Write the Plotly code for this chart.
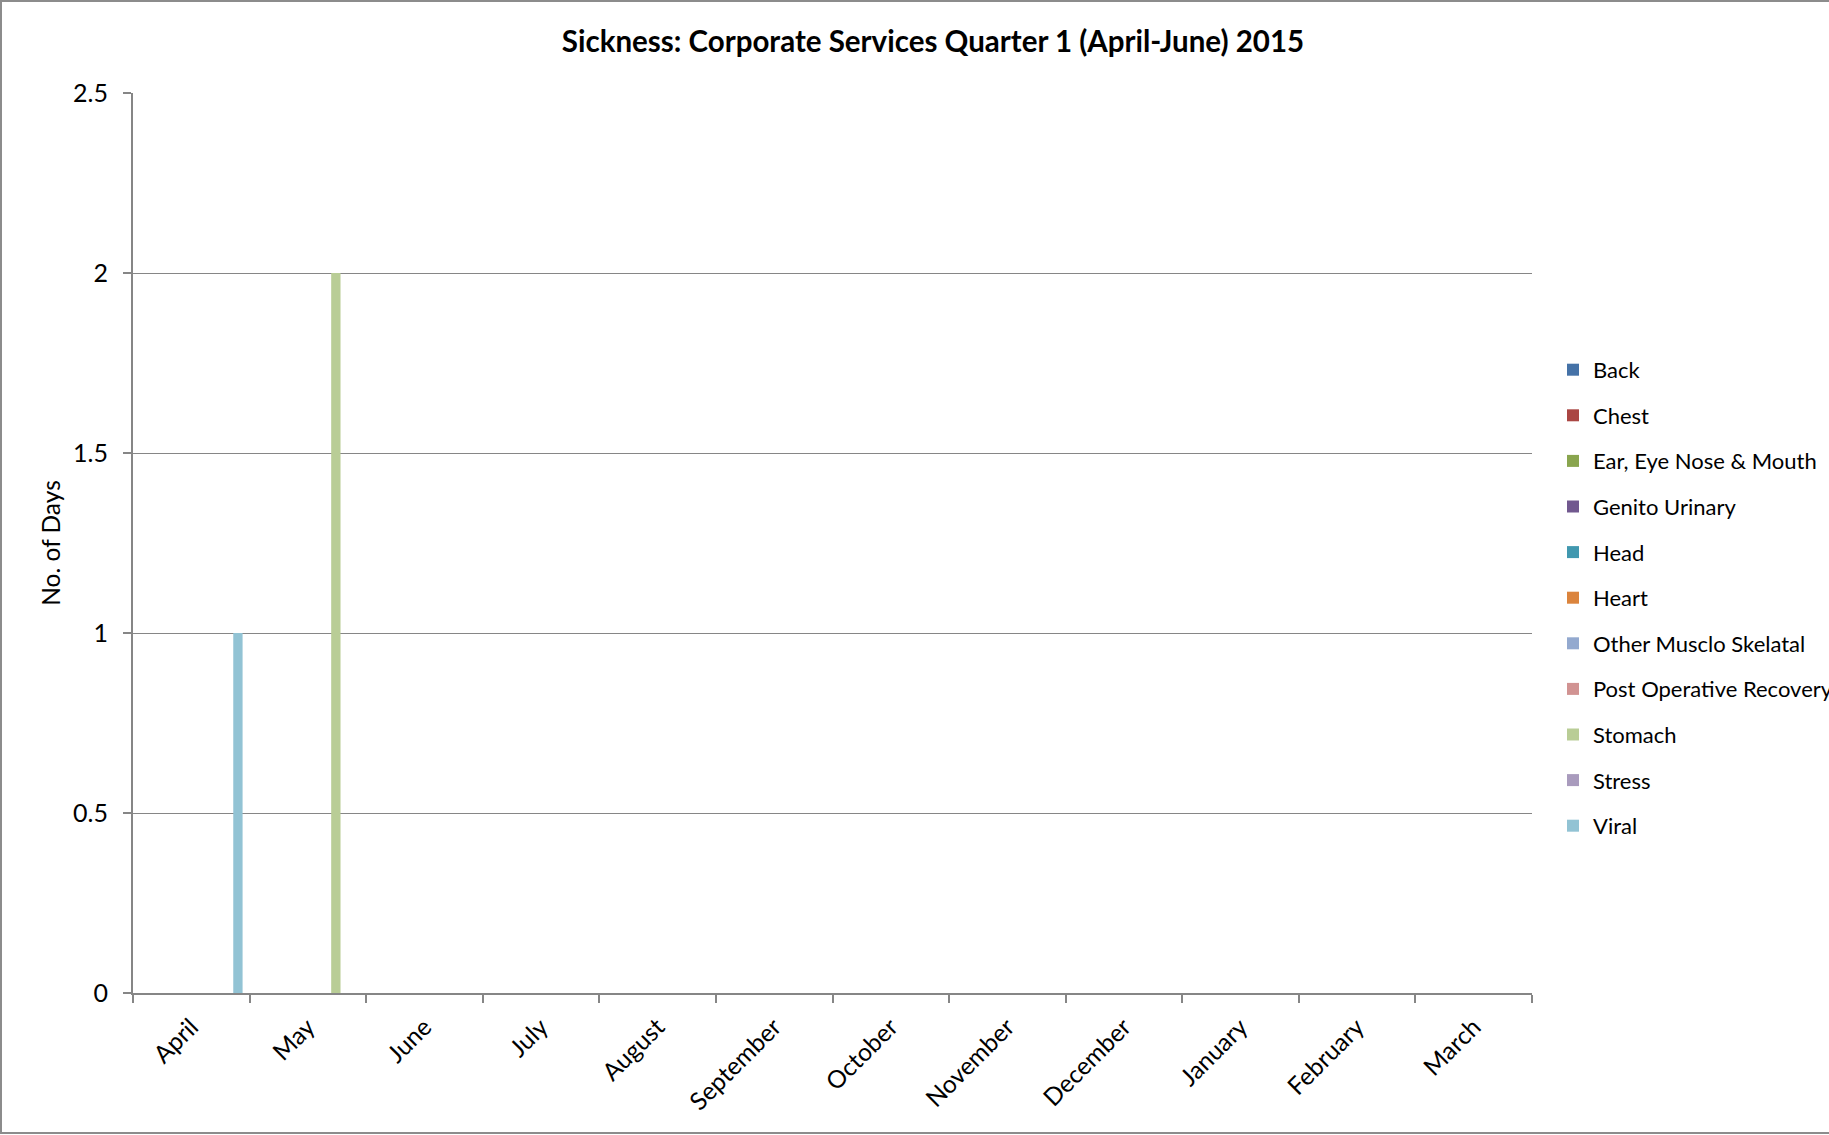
import plotly.graph_objects as go

months = ["April", "May", "June", "July", "August", "September", "October",
          "November", "December", "January", "February", "March"]

series_names = ["Back", "Chest", "Ear, Eye Nose & Mouth", "Genito Urinary", "Head",
                "Heart", "Other Musclo Skelatal", "Post Operative Recovery",
                "Stomach", "Stress", "Viral"]

series_colors = ["#4572A7", "#AA4643", "#89A54E", "#71588F", "#4198AF", "#DB843D",
                 "#93A9CF", "#D19392", "#B9CD96", "#A99BBD", "#92C3D4"]

back = [0] * 12
chest = [0] * 12
ear_eye = [0] * 12
genito = [0] * 12
head = [0] * 12
heart = [0] * 12
other_musclo = [0] * 12
post_op = [0] * 12
stomach = [0, 2, 0, 0, 0, 0, 0, 0, 0, 0, 0, 0]
stress = [0] * 12
viral = [1, 0, 0, 0, 0, 0, 0, 0, 0, 0, 0, 0]

series_values = [back, chest, ear_eye, genito, head, heart, other_musclo,
                 post_op, stomach, stress, viral]

W, H = 1829, 1135
ML, MR, MT, MB = 133, 297, 93, 142
FONT = "Lato"
GRAY = "#868686"

fig = go.Figure()
for i, (name, vals, col) in enumerate(zip(series_names, series_values, series_colors)):
    fig.add_trace(go.Bar(
        x=months, y=vals, name=name,
        marker=dict(color=col, line=dict(width=0)),
        legendgroup=f"g{i}",
    ))

pw = W - ML - MR
ph = H - MT - MB

fig.update_layout(
    width=W, height=H,
    margin=dict(l=ML, r=MR, t=MT, b=MB, autoexpand=False),
    paper_bgcolor="white", plot_bgcolor="white",
    barmode="group", bargap=0.12, bargroupgap=0,
    font=dict(family=FONT, size=24, color="black"),
    title=dict(text="<b>Sickness: Corporate Services Quarter 1 (April-June) 2015</b>",
               x=933 / W, xref="container", xanchor="center",
               y=1 - 42 / H, yref="container", yanchor="middle",
               font=dict(family=FONT, size=29.5, color="black")),
    legend=dict(x=1.015, xanchor="left", y=0.439, yanchor="middle",
                font=dict(family=FONT, size=22), tracegroupgap=14,
                bgcolor="rgba(0,0,0,0)", itemclick=False),
    showlegend=True,
    xaxis=dict(type="category", showline=True, linecolor=GRAY, linewidth=2,
               ticks="outside", tickson="boundaries", ticklen=8, tickcolor=GRAY,
               tickwidth=1.5, tickangle=-45, showgrid=False,
               ticklabelstandoff=8,
               tickfont=dict(family=FONT, size=24.5)),
    yaxis=dict(range=[0, 2.5], dtick=0.5, showline=True, linecolor=GRAY, linewidth=2,
               ticks="outside", ticklen=8, tickcolor=GRAY, tickwidth=1.5,
               showgrid=True, gridcolor=GRAY, gridwidth=1, zeroline=False,
               ticklabelstandoff=10, tickfont=dict(family=FONT, size=25),
               title=dict(text="No. of Days", standoff=6,
                          font=dict(family=FONT, size=24.5))),
)

# outer chart frame
fig.add_shape(type="rect", xref="paper", yref="paper",
              x0=(1 - ML) / pw, x1=(W + 20 - ML) / pw,
              y0=(H - MB - (H - 2)) / ph, y1=(H - MB - 1) / ph,
              line=dict(color="#8c8c8c", width=2), fillcolor="rgba(0,0,0,0)")

fig.write_html("out.html")
